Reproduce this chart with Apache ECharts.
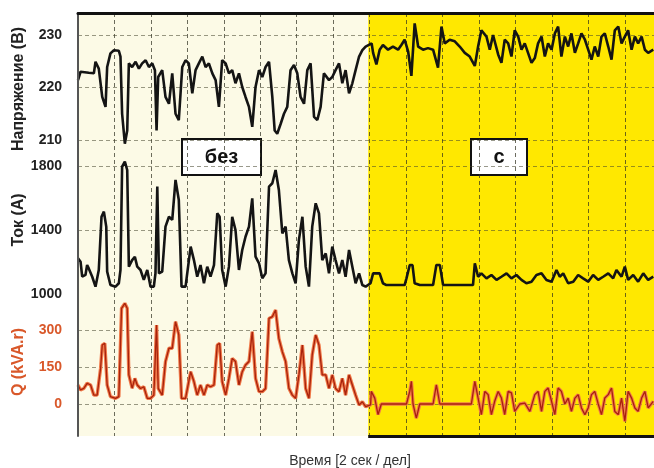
<!DOCTYPE html>
<html>
<head>
<meta charset="utf-8">
<title>Напряжение, ток и Q</title>
<script src="https://cdn.jsdelivr.net/npm/echarts@6/dist/echarts.min.js"></script>
<style>
  html, body { margin: 0; padding: 0; background: #fff; }
  #chart { width: 654px; height: 468px; }
</style>
</head>
<body>
<div id="chart"></div>
<script>
// время в секундах (2 сек на деление), компенсация включается на T_SWITCH
const T_MAX = 31.6;
const T_SWITCH = 15.92;

// Напряжение (В)
const voltTime = [
  0, 0.14, 0.59, 0.87, 0.96, 1.14, 1.33, 1.51, 1.60, 1.78, 1.97, 2.24, 2.33, 2.42, 2.57, 2.70,
  2.79, 2.97, 3.16, 3.34, 3.52, 3.71, 3.89, 4.07, 4.22, 4.31, 4.40, 4.62, 4.80, 4.99, 5.17, 5.35,
  5.53, 5.72, 5.90, 6.08, 6.27, 6.45, 6.63, 6.82, 7.00, 7.18, 7.37, 7.55, 7.73, 7.91, 8.10, 8.28,
  8.46, 8.64, 8.83, 9.01, 9.19, 9.38, 9.56, 9.74, 9.93, 10.11, 10.29, 10.48, 10.66, 10.79, 10.93, 11.12,
  11.30, 11.48, 11.66, 11.85, 12.03, 12.21, 12.40, 12.58, 12.76, 12.95, 13.13, 13.31, 13.49, 13.77, 13.95, 14.13,
  14.32, 14.50, 14.68, 14.87, 15.05, 15.23, 15.42, 15.60, 15.78, 16.11,
  16.19, 16.37, 16.55, 16.73, 17.01, 17.28, 17.56, 17.74, 17.92, 18.11, 18.29, 18.47, 18.66, 18.93, 19.20, 19.48,
  19.75, 19.94, 20.12, 20.39, 20.67, 20.94, 21.22, 21.49, 21.77, 21.95, 22.13, 22.41, 22.59, 22.77, 23.05, 23.23,
  23.41, 23.60, 23.78, 23.96, 24.15, 24.33, 24.51, 24.69, 24.88, 25.06, 25.24, 25.43, 25.61, 25.79, 25.98, 26.16,
  26.34, 26.52, 26.71, 26.89, 27.07, 27.26, 27.44, 27.62, 27.81, 27.99, 28.17, 28.35, 28.54, 28.72, 28.90, 29.09,
  29.27, 29.45, 29.64, 29.82, 30.00, 30.18, 30.37, 30.55, 30.73, 30.92, 31.10, 31.28, 31.56
];
const voltValues = [
  221.4, 223.0, 222.8, 222.7, 224.9, 223.6, 218.2, 216.3, 223.9, 226.5, 227.1, 227.0, 225.9, 215.0, 209.3, 211.8,
  224.6, 223.9, 224.9, 223.6, 224.6, 225.2, 223.9, 224.6, 223.3, 211.8, 222.0, 223.3, 218.2, 216.9, 222.7, 215.0,
  213.8, 223.9, 225.2, 224.6, 218.9, 223.3, 224.6, 225.9, 223.9, 224.6, 222.7, 221.4, 216.3, 225.2, 224.6, 222.7,
  223.3, 220.8, 222.7, 220.1, 218.2, 216.3, 212.5, 220.1, 223.3, 222.0, 223.9, 224.9, 218.2, 211.8, 211.2, 213.1,
  215.0, 216.3, 223.3, 224.3, 222.7, 218.2, 216.9, 223.3, 224.6, 214.4, 213.8, 216.3, 222.7, 221.4, 222.0, 223.3,
  224.6, 220.8, 223.3, 218.9, 220.8, 223.3, 225.9, 227.1, 227.8, 228.4,
  226.6, 224.4, 227.2, 228.1, 227.2, 227.8, 227.2, 228.1, 229.1, 226.9, 222.2, 232.2, 227.8, 227.2, 227.5, 227.2,
  223.8, 231.6, 228.4, 229.1, 228.8, 227.8, 226.6, 225.9, 224.1, 227.8, 230.9, 229.7, 227.2, 230.0, 226.3, 224.7,
  229.1, 228.4, 225.9, 230.9, 229.7, 227.2, 228.4, 226.6, 224.7, 225.6, 228.4, 229.7, 225.9, 228.4, 227.2, 230.3,
  231.6, 225.9, 229.7, 227.8, 230.3, 226.6, 228.4, 230.3, 229.1, 227.2, 225.3, 227.8, 225.9, 229.7, 230.3, 227.8,
  225.3, 230.9, 231.6, 228.4, 229.7, 230.9, 227.2, 229.7, 228.4, 229.7, 227.2, 226.6, 227.2
];

// Ток (А)
const ampTime = [
  0, 0.14, 0.23, 0.41, 0.50, 0.59, 0.78, 0.96, 1.14, 1.29, 1.42, 1.55, 1.60, 1.78, 2.06, 2.24,
  2.33, 2.42, 2.57, 2.70, 2.79, 2.97, 3.12, 3.25, 3.43, 3.61, 3.80, 3.98, 4.16, 4.25, 4.35, 4.44,
  4.62, 4.80, 4.99, 5.17, 5.35, 5.53, 5.68, 5.90, 6.18, 6.36, 6.54, 6.72, 6.91, 7.09, 7.27, 7.46,
  7.64, 7.77, 7.91, 8.10, 8.28, 8.46, 8.64, 8.83, 9.01, 9.19, 9.38, 9.56, 9.74, 9.93, 10.11, 10.29,
  10.48, 10.66, 10.84, 11.02, 11.21, 11.39, 11.57, 11.76, 11.94, 12.12, 12.31, 12.49, 12.67, 12.85, 13.04, 13.22,
  13.40, 13.59, 13.77, 13.95, 14.13, 14.32, 14.50, 14.68, 14.87, 15.05, 15.23, 15.42, 15.60, 15.78, 16.05,
  16.19, 16.55, 16.73, 16.92, 17.92, 18.02, 18.20, 18.35, 18.47, 18.75, 19.48, 19.66, 19.85, 20.03, 21.67, 21.77,
  21.95, 22.13, 22.41, 22.68, 22.96, 23.23, 23.51, 23.78, 24.05, 24.33, 24.60, 24.88, 25.15, 25.43, 25.70, 25.98,
  26.25, 26.43, 26.62, 26.89, 27.17, 27.44, 27.71, 27.99, 28.26, 28.54, 28.81, 29.09, 29.36, 29.54, 29.82, 30.00,
  30.18, 30.46, 30.73, 31.01, 31.28, 31.56
];
const ampValues = [
  1223, 1202, 1108, 1119, 1181, 1160, 1108, 1046, 1150, 1483, 1515, 1421, 1140, 1056, 1046, 1067,
  1150, 1796, 1827, 1775, 1171, 1212, 1233, 1171, 1150, 1088, 1150, 1046, 1046, 1129, 1671, 1129,
  1140, 1421, 1483, 1463, 1713, 1588, 1046, 1046, 1296, 1212, 1108, 1181, 1067, 1171, 1108, 1181,
  1504, 1483, 1150, 1046, 1171, 1483, 1400, 1150, 1275, 1358, 1421, 1598, 1233, 1192, 1098, 1129,
  1671, 1692, 1775, 1650, 1379, 1421, 1212, 1129, 1067, 1338, 1483, 1171, 1046, 1421, 1567, 1504,
  1212, 1254, 1129, 1296, 1212, 1129, 1212, 1108, 1275, 1171, 1067, 1129, 1056, 1046, 1067,
  1129, 1129, 1067, 1056, 1056, 1098, 1181, 1181, 1067, 1056, 1056, 1181, 1181, 1056, 1056, 1192,
  1108, 1129, 1098, 1119, 1088, 1108, 1129, 1098, 1119, 1088, 1067, 1077, 1119, 1129, 1088, 1077,
  1150, 1108, 1129, 1067, 1077, 1119, 1098, 1077, 1119, 1088, 1108, 1129, 1098, 1150, 1108, 1171,
  1088, 1119, 1077, 1129, 1088, 1108
];

// Q (kVA.r)
const qTime = [
  0, 0.14, 0.32, 0.50, 0.69, 0.87, 1.05, 1.24, 1.33, 1.47, 1.60, 1.78, 2.06, 2.24, 2.39, 2.57,
  2.70, 2.79, 2.97, 3.12, 3.25, 3.43, 3.61, 3.80, 3.98, 4.16, 4.31, 4.40, 4.62, 4.80, 4.99, 5.17,
  5.35, 5.53, 5.68, 5.90, 6.18, 6.36, 6.54, 6.72, 6.91, 7.09, 7.27, 7.46, 7.64, 7.77, 7.91, 8.10,
  8.28, 8.46, 8.64, 8.83, 9.01, 9.19, 9.38, 9.56, 9.74, 9.93, 10.11, 10.29, 10.48, 10.66, 10.84, 11.02,
  11.21, 11.39, 11.57, 11.76, 11.94, 12.12, 12.31, 12.49, 12.67, 12.85, 13.04, 13.22, 13.40, 13.59, 13.77, 13.95,
  14.13, 14.32, 14.50, 14.68, 14.87, 15.05, 15.23, 15.42, 15.60, 15.78, 16.05,
  16.09, 16.28, 16.46, 16.64, 16.92, 18.02, 18.20, 18.29, 18.38, 18.56, 18.75, 19.48, 19.66, 19.85, 21.58, 21.77,
  21.95, 22.13, 22.32, 22.50, 22.68, 22.86, 23.05, 23.23, 23.41, 23.60, 23.78, 23.96, 24.24, 24.51, 24.79, 25.06,
  25.24, 25.43, 25.61, 25.79, 25.98, 26.16, 26.34, 26.52, 26.71, 26.89, 27.07, 27.26, 27.44, 27.62, 27.81, 27.99,
  28.17, 28.35, 28.54, 28.72, 28.90, 29.09, 29.27, 29.45, 29.64, 29.82, 30.00, 30.18, 30.37, 30.55, 30.73, 30.92,
  31.10, 31.28, 31.56
];
const qValues = [
  77, 57, 63, 84, 77, 36, 36, 145, 239, 246, 77, 30, 23, 30, 388, 408,
  388, 118, 64, 104, 77, 63, 70, 23, 23, 36, 320, 63, 36, 172, 226, 226,
  334, 280, 23, 23, 131, 91, 36, 77, 36, 77, 70, 77, 239, 246, 91, 36,
  104, 185, 172, 77, 131, 158, 172, 293, 104, 50, 50, 63, 347, 354, 381, 266,
  212, 172, 64, 36, 23, 118, 239, 63, 23, 199, 280, 239, 118, 118, 63, 118,
  63, 50, 104, 36, 118, 77, 36, -4, 9, -11, -4,
  51, 24, -43, 0, 0, 0, 51, 92, 0, -57, 0, 0, 78, 0, 0, 92,
  24, -43, 51, 38, -43, 11, 51, 24, -43, 51, 45, -30, 0, 4, -30, 38,
  51, -30, 51, 65, 11, -43, 65, 51, 0, 24, -30, 24, 38, -16, -43, -16,
  38, 51, 0, -43, 24, 38, 65, -30, -43, 24, -70, 51, 24, -16, -30, 24,
  51, -16, 11
];

// подписи шкал
const voltTicks = [210, 220, 230];
const ampTicks = [1000, 1400, 1800];
const qTicks = [0, 150, 300];

const pairs = (t, v) => t.map((x, i) => [x, v[i]]);

const labelFont = { fontFamily: 'Liberation Sans, Arial, sans-serif', fontSize: 14, fontWeight: 'bold' };
const nameFont = { fontFamily: 'Liberation Sans, Arial, sans-serif', fontSize: 16, fontWeight: 'bold' };
const gridLineStyle = { type: [4, 3], color: 'rgba(70,70,45,0.55)', width: 1 };

function dataYAxis(grid, min, max, interval, ticks, color) {
  return {
    type: 'value', gridIndex: grid, min, max, interval,
    axisLine: { show: false }, axisTick: { show: false }, splitLine: { show: false },
    axisLabel: {
      ...labelFont, color, margin: 16,
      formatter: v => (ticks.includes(v) ? String(v) : '')
    }
  };
}

function hLines(x, y, ticks) {
  return {
    type: 'line', xAxisIndex: x, yAxisIndex: y, data: [], silent: true, z: 1,
    markLine: {
      silent: true, symbol: 'none', label: { show: false }, z: 2,
      lineStyle: gridLineStyle,
      data: ticks.map(v => ({ yAxis: v }))
    }
  };
}

const chart = echarts.init(document.getElementById('chart'));

chart.setOption({
  animation: false,
  backgroundColor: '#fff',
  grid: [
    { left: 78, right: 0, top: 13, bottom: 32 },
    { left: 78, right: 0, top: 8.75, height: 157.5 },
    { left: 78, right: 0, top: 134, height: 192 },
    { left: 78, right: 0, top: 293, height: 148 }
  ],
  xAxis: [
    {
      type: 'value', gridIndex: 0, min: 0, max: T_MAX, interval: 2, z: 2,
      axisLine: { show: false }, axisTick: { show: false }, axisLabel: { show: false },
      splitLine: { show: true, lineStyle: { type: [4, 3], color: 'rgba(45,45,30,0.7)', width: 1 } }
    },
    {
      type: 'value', gridIndex: 0, position: 'top', min: 0, max: T_MAX, z: 6,
      axisLine: { show: true, lineStyle: { color: '#111', width: 3 } },
      axisTick: { show: false }, axisLabel: { show: false }, splitLine: { show: false }
    },
    { type: 'value', gridIndex: 1, min: 0, max: T_MAX, show: false },
    { type: 'value', gridIndex: 2, min: 0, max: T_MAX, show: false },
    { type: 'value', gridIndex: 3, min: 0, max: T_MAX, show: false }
  ],
  yAxis: [
    {
      type: 'value', gridIndex: 0, min: 0, max: 1, offset: 1, z: 6,
      axisLine: { show: true, lineStyle: { color: '#555', width: 2 } },
      axisTick: { show: false }, axisLabel: { show: false }, splitLine: { show: false }
    },
    dataYAxis(1, 205, 235, 5, voltTicks, '#222'),
    dataYAxis(2, 800, 2000, 200, ampTicks, '#222'),
    dataYAxis(3, -150, 450, 150, qTicks, '#d9582a')
  ],
  series: [
    {
      type: 'line', xAxisIndex: 0, yAxisIndex: 0, data: [], silent: true, z: -1,
      markArea: {
        silent: true, z: -1,
        data: [
          [{ xAxis: 0, itemStyle: { color: '#fcfae6' } }, { xAxis: T_SWITCH }],
          [{ xAxis: T_SWITCH, itemStyle: { color: '#ffe800' } }, { xAxis: T_MAX }]
        ]
      },
      markLine: {
        silent: true, symbol: 'none', label: { show: false },
        lineStyle: { color: '#111', width: 3, type: 'solid' },
        data: [[{ coord: [T_SWITCH, 0] }, { coord: [T_MAX, 0] }]]
      }
    },
    hLines(2, 1, voltTicks),
    hLines(3, 2, ampTicks.filter(v => v !== 1000)),
    hLines(4, 3, qTicks),
    {
      name: 'Напряжение', type: 'line', xAxisIndex: 2, yAxisIndex: 1, z: 3,
      data: pairs(voltTime, voltValues), showSymbol: false,
      lineStyle: { color: '#141414', width: 2.6 }
    },
    {
      name: 'Ток', type: 'line', xAxisIndex: 3, yAxisIndex: 2, z: 3,
      data: pairs(ampTime, ampValues), showSymbol: false,
      lineStyle: { color: '#141414', width: 2.6 }
    },
    {
      name: 'Q', type: 'line', xAxisIndex: 4, yAxisIndex: 3, z: 3,
      data: pairs(qTime, qValues), showSymbol: false,
      lineStyle: { color: '#f07a4a', width: 3.4 }
    },
    {
      name: 'Q2', type: 'line', xAxisIndex: 4, yAxisIndex: 3, z: 4,
      data: pairs(qTime, qValues), showSymbol: false,
      lineStyle: { color: '#a8220c', width: 1.3 }
    }
  ],
  graphic: [
    { type: 'text', x: 19, y: 89, rotation: Math.PI / 2,
      style: { text: 'Напряжение (В)', ...nameFont, fill: '#222', align: 'center', verticalAlign: 'middle' } },
    { type: 'text', x: 19, y: 220, rotation: Math.PI / 2,
      style: { text: 'Ток (А)', ...nameFont, fill: '#222', align: 'center', verticalAlign: 'middle' } },
    { type: 'text', x: 19, y: 362, rotation: Math.PI / 2,
      style: { text: 'Q (kVA.r)', ...nameFont, fill: '#d9582a', align: 'center', verticalAlign: 'middle' } },
    { type: 'text', x: 350, y: 461,
      style: { text: 'Время [2 сек / дел]', fontFamily: 'Liberation Sans, Arial, sans-serif', fontSize: 14,
               fill: '#333', align: 'center', verticalAlign: 'middle' } },
    { type: 'group', z: 100, children: [
      { type: 'rect', shape: { x: 182, y: 139, width: 79, height: 36 },
        style: { fill: '#fff', stroke: '#111', lineWidth: 2 } },
      { type: 'text', x: 221.5, y: 157,
        style: { text: 'без', ...labelFont, fontSize: 20, fill: '#111', align: 'center', verticalAlign: 'middle' } }
    ] },
    { type: 'group', z: 100, children: [
      { type: 'rect', shape: { x: 471, y: 139, width: 56, height: 36 },
        style: { fill: '#fff', stroke: '#111', lineWidth: 2 } },
      { type: 'text', x: 499, y: 157,
        style: { text: 'с', ...labelFont, fontSize: 20, fill: '#111', align: 'center', verticalAlign: 'middle' } }
    ] }
  ]
});
</script>
</body>
</html>
